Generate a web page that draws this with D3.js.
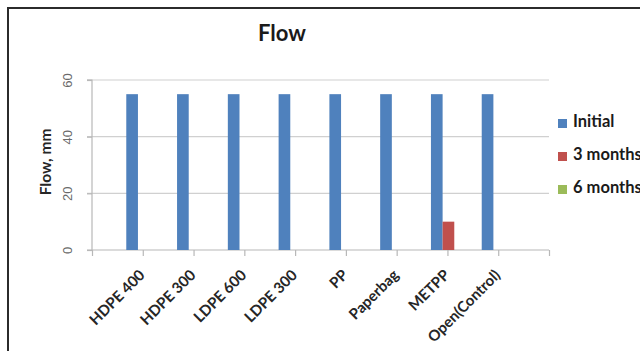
<!DOCTYPE html>
<html>
<head>
<meta charset="utf-8">
<script src="https://cdn.jsdelivr.net/npm/d3@7"></script>
<style>
  html, body { margin: 0; padding: 0; background: #fff; }
  svg { display: block; font-family: Lato, "Open Sans", sans-serif; }
</style>
</head>
<body>
<svg id="chart" width="640" height="351"></svg>
<script>
// Flow measurements per packaging material
const categories = ["HDPE 400", "HDPE 300", "LDPE 600", "LDPE 300", "PP", "Paperbag", "METPP", "Open(Control)"];
const seriesNames = ["Initial", "3 months", "6 months"];
const initialValues = [55, 55, 55, 55, 55, 55, 55, 55];
const threeMonthValues = [0, 0, 0, 0, 0, 0, 10, 0];
const sixMonthValues = [0, 0, 0, 0, 0, 0, 0, 0];
const yTicks = [0, 20, 40, 60];
const colors = ["#4f81bd", "#c0504d", "#9bbb59"];

const seriesValues = [initialValues, threeMonthValues, sixMonthValues];

const svg = d3.select("#chart");

// outer chart frame
svg.append("rect")
  .attr("x", 8).attr("y", 8)
  .attr("width", 700).attr("height", 400)
  .attr("fill", "none").attr("stroke", "#2b2b2b").attr("stroke-width", 2);

const plot = { left: 92, right: 549, top: 80, bottom: 250 };

const y = d3.scaleLinear().domain([0, 60]).range([plot.bottom, plot.top]);
// category slots include an empty slot at each end of the axis
const x = d3.scalePoint()
  .domain(d3.range(categories.length + 2))
  .range([plot.left, plot.right]);
const groupWidth = 35;
const sub = d3.scaleBand().domain(seriesNames).range([-groupWidth / 2, groupWidth / 2]);

// horizontal gridlines
svg.append("g").selectAll("line")
  .data(yTicks.filter(t => t > 0))
  .join("line")
  .attr("x1", plot.left - 5).attr("x2", plot.right)
  .attr("y1", d => y(d)).attr("y2", d => y(d))
  .attr("stroke", "#d0d0d0").attr("stroke-width", 1.2);

// y axis
const yAxis = svg.append("g")
  .attr("transform", `translate(${plot.left},0)`)
  .call(d3.axisLeft(y).tickValues(yTicks).tickSize(5).tickFormat(d3.format("d")));
yAxis.selectAll("path, line").attr("stroke", "#b8b8b8").attr("stroke-width", 1.2);
yAxis.select(".domain").attr("d", `M-5,${plot.bottom}H0V${plot.top}H-5`);
yAxis.selectAll("text")
  .attr("fill", "#6a6a6a").attr("font-size", 13)
  .attr("text-anchor", "middle")
  .attr("x", null).attr("dy", null)
  .attr("transform", d => `translate(-23,0) rotate(-90)`)
  .attr("y", 0)
  .attr("dominant-baseline", "middle");

// x axis
const xAxis = svg.append("g")
  .attr("transform", `translate(0,${plot.bottom})`)
  .call(d3.axisBottom(x).tickSize(6).tickFormat(() => ""));
xAxis.selectAll("path, line").attr("stroke", "#b8b8b8").attr("stroke-width", 1.2);
xAxis.select(".domain").attr("d", `M${plot.left},0H${plot.right}`);

// category labels
svg.append("g").selectAll("text")
  .data(categories)
  .join("text")
  .attr("transform", (d, i) => `translate(${x(i + 1) + 3},276) rotate(-45)`)
  .attr("text-anchor", "end")
  .attr("font-size", 15).attr("font-weight", "bold")
  .attr("fill", "#262626")
  .text(d => d);

// bars
const groups = svg.append("g").selectAll("g")
  .data(categories)
  .join("g")
  .attr("transform", (d, i) => `translate(${x(i + 1) + 1},0)`);
groups.selectAll("rect")
  .data((d, i) => seriesNames.map((s, k) => ({ s, k, v: seriesValues[k][i] })))
  .join("rect")
  .attr("x", d => sub(d.s))
  .attr("width", sub.bandwidth())
  .attr("y", d => y(d.v))
  .attr("height", d => y(0) - y(d.v))
  .attr("fill", d => colors[d.k]);

// title
svg.append("text")
  .attr("x", 282).attr("y", 41)
  .attr("text-anchor", "middle")
  .attr("font-size", 22).attr("font-weight", "bold")
  .attr("fill", "#1a1a1a")
  .text("Flow");

// y axis title
svg.append("text")
  .attr("transform", "translate(51,162) rotate(-90)")
  .attr("text-anchor", "middle")
  .attr("font-size", 15.5).attr("font-weight", "bold")
  .attr("fill", "#262626")
  .text("Flow, mm");

// legend
const legend = svg.append("g").selectAll("g")
  .data(seriesNames)
  .join("g")
  .attr("transform", (d, i) => `translate(558,${123 + i * 33})`);
legend.append("rect")
  .attr("x", 0).attr("y", -4).attr("width", 9).attr("height", 9)
  .attr("fill", (d, i) => colors[i]);
legend.append("text")
  .attr("x", 15).attr("y", 0)
  .attr("dominant-baseline", "middle")
  .attr("font-size", 16.5).attr("font-weight", "bold")
  .attr("fill", "#1a1a1a")
  .text(d => d);
</script>
</body>
</html>
